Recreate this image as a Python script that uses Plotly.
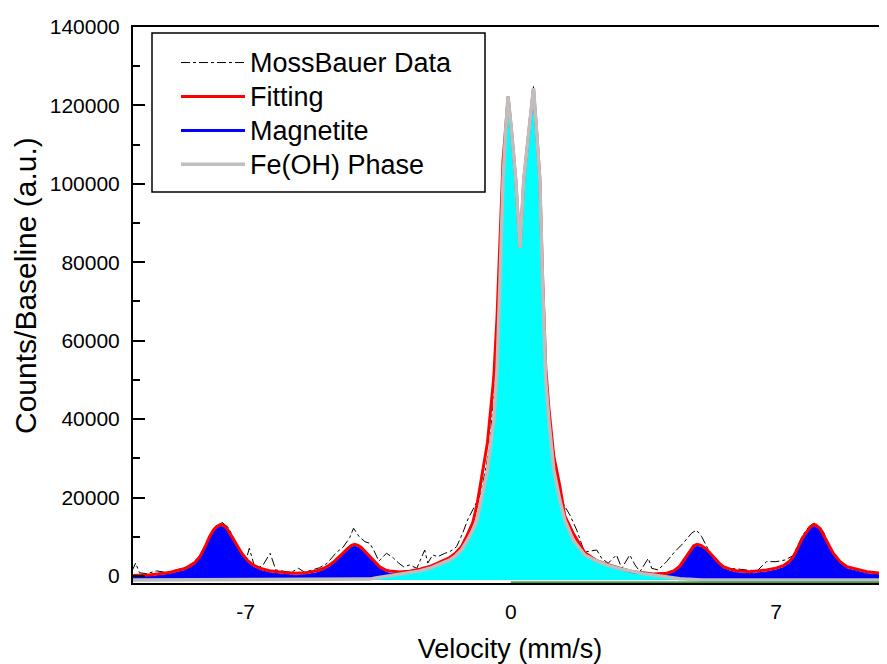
import plotly.graph_objects as go

# ---------------- data ----------------
# smooth model curves share one velocity grid (mm/s)
V_CURVE = [-10.0, -9.5, -9.0, -8.6, -8.35, -8.2, -8.05, -7.95, -7.85, -7.76,
           -7.64, -7.51, -7.42, -7.33, -7.2, -7.1, -6.95, -6.8, -6.6, -6.37,
           -6.0, -5.66, -5.4, -5.13, -4.95, -4.78, -4.65, -4.52, -4.4, -4.3,
           -4.2, -4.12, -4.03, -3.94, -3.83, -3.72, -3.6, -3.46, -3.3, -3.2,
           -2.93, -2.67, -2.4, -2.14, -1.9, -1.61, -1.45, -1.3, -1.15, -1.0,
           -0.89, -0.774, -0.615, -0.449, -0.362, -0.283, -0.203, -0.132, -0.071, 0.018,
           0.132, 0.211, 0.246, 0.343, 0.483, 0.6, 0.679, 0.766, 0.837, 0.924,
           1.004, 1.136, 1.294, 1.426, 1.646, 1.955, 2.25, 2.528, 2.9, 3.22,
           3.5, 3.75, 4.12, 4.3, 4.46, 4.6, 4.73, 4.83, 4.92, 5.02,
           5.17, 5.28, 5.39, 5.5, 5.61, 5.8, 5.96, 6.31, 6.75, 7.0,
           7.19, 7.35, 7.46, 7.6, 7.72, 7.9, 8.01, 8.16, 8.34, 8.51,
           8.7, 8.87, 9.4, 9.92, 10.0]

FITTING = [100, 300, 900, 1900, 3300, 5000, 7800, 10000, 11700, 12600,
           13200, 12400, 11000, 9600, 7400, 5800, 4000, 2800, 1900, 1350,
           900, 700, 850, 1300, 1900, 2800, 3800, 4900, 6100, 7060,
           7800, 8080, 7800, 7220, 6100, 4900, 3600, 2370, 1500, 1280,
           1000, 1200, 1700, 2400, 3400, 4700, 5900, 7500, 10400, 13700,
           18200, 24500, 34000, 50500, 66000, 86000, 106000, 114500, 122240, 113750,
           101000, 88240, 83650, 101000, 113750, 124380, 113750, 101500, 77000, 53000,
           43000, 30500, 23000, 15300, 10900, 5900, 4000, 3000, 1900, 1100,
           800, 510, 700, 1300, 2500, 4500, 6500, 7700, 8080, 7800,
           6800, 5600, 4500, 3300, 2400, 1700, 1350, 1100, 1530, 2000,
           2630, 3700, 4920, 7500, 10020, 12420, 13190, 12170, 8750, 5790,
           3600, 2370, 1100, 510, 450]

MAGNETITE = [-300, -150, 450, 1400, 2800, 4500, 7300, 9500, 11200, 12100,
             12700, 11900, 10500, 9100, 6900, 5300, 3500, 2300, 1400, 850,
             400, 200, 350, 800, 1400, 2300, 3300, 4400, 5600, 6560,
             7300, 7580, 7300, 6700, 5600, 4400, 3100, 1900, 1000, 700,
             350, 450, 600, 800, 1000, 1400, 1800, 2200, 2600, 2800,
             2800, 2800, 2600, 2400, 2200, 2000, 1900, 1800, 1800, 1800,
             1900, 2000, 2000, 2100, 2300, 2500, 2600, 2700, 2800, 2900,
             3000, 3000, 2900, 2700, 2300, 1700, 1300, 1000, 800, 600,
             450, 300, 300, 900, 2000, 4000, 6000, 7200, 7580, 7300,
             6300, 5100, 4000, 2800, 1900, 1200, 850, 600, 1030, 1500,
             2130, 3200, 4420, 7000, 9520, 11920, 12690, 11670, 8250, 5290,
             3100, 1870, 600, 100, 50]

FE_OH = [-1000, -1000, -1000, -1000, -1000, -1000, -1000, -1000, -1000, -1000,
         -1000, -1000, -1000, -1000, -1000, -1000, -1000, -1000, -1000, -1000,
         -1000, -1000, -1000, -1000, -1000, -1000, -1000, -1000, -1000, -1000,
         -1000, -1000, -1000, -950, -900, -800, -600, -400, -200, 0,
         400, 765, 1300, 1960, 2900, 4080, 5200, 6630, 9000, 11700,
         14280, 19380, 27030, 39790, 52540, 75490, 101000, 113750, 122240, 113750,
         101000, 88240, 83650, 101000, 113750, 124380, 113750, 101000, 75490, 49990,
         39790, 27030, 19380, 14280, 9180, 5360, 3900, 2810, 1800, 1100,
         600, 255, -300, -600, -700, -800, -900, -950, -1000, -1000,
         -1000, -1000, -1000, -1000, -1000, -1000, -1000, -1000, -1000, -1000,
         -1000, -1000, -1000, -1000, -1000, -1000, -1000, -1000, -1000, -1000,
         -1000, -1000, -1000, -1000, -1000]

# measured (noisy) Mossbauer data
V_DATA = [-10.0, -9.9, -9.8, -9.6, -9.35, -9.1, -8.85, -8.6, -8.35, -8.15,
          -7.95, -7.78, -7.62, -7.45, -7.3, -7.15, -7.0, -6.9, -6.78, -6.7,
          -6.55, -6.35, -6.2, -6.0, -5.8, -5.6, -5.45, -5.25, -5.05, -4.85,
          -4.6, -4.42, -4.25, -4.15, -4.0, -3.85, -3.72, -3.62, -3.48, -3.28,
          -3.1, -2.96, -2.83, -2.67, -2.48, -2.27, -2.19, -2.06, -1.93, -1.74,
          -1.61, -1.43, -1.27, -1.14, -1.0, -0.87, -0.79, -0.65, -0.55, -0.42,
          -0.3, -0.2, -0.12, -0.06, 0.02, 0.13, 0.24, 0.35, 0.48, 0.6,
          0.7, 0.8, 0.92, 1.05, 1.21, 1.38, 1.56, 1.74, 1.91, 2.0,
          2.27, 2.4, 2.57, 2.79, 2.93, 3.14, 3.28, 3.41, 3.63, 3.72,
          3.89, 4.11, 4.33, 4.55, 4.77, 4.9, 5.04, 5.2, 5.38, 5.6,
          5.75, 6.23, 6.5, 6.75, 7.0, 7.24, 7.45, 7.7, 7.88, 8.02,
          8.15, 8.25, 8.4, 8.55, 8.8, 9.1, 9.4, 9.7, 10.0]

COUNTS_DATA = [1200, 3300, 800, 600, 1300, 900, 1500, 2100, 3600, 6000,
               10200, 12600, 13700, 12300, 9400, 6000, 3600, 7060, 3000, 2040,
               2600, 5780, 1530, 1300, 900, 1960, 1000, 1500, 2100, 3200,
               6000, 7400, 9800, 12170, 10020, 8750, 8340, 6630, 3800, 5800,
               4600, 3300, 2370, 2800, 1960, 6630, 3300, 5360, 4920, 5780,
               6200, 7470, 10890, 14280, 16830, 19380, 21090, 28000, 34000, 50000,
               74000, 100000, 116000, 121500, 112000, 99000, 84000, 100000, 114000, 124800,
               111000, 88000, 52000, 38000, 25320, 18540, 15560, 11730, 7060, 6200,
               6630, 4510, 3240, 5360, 1960, 5360, 2810, 1100, 4510, 1960,
               1530, 3650, 6200, 8340, 10890, 11730, 10020, 7000, 4300, 2370,
               2000, 1530, 1300, 3650, 3650, 4080, 5200, 10300, 12700, 13600,
               12500, 11300, 8000, 5200, 2800, 1600, 1000, 700, 500]

# small green residual-like line near the bottom, right half
V_GREEN = [0.0, 10.0]
GREEN = [-1550, -1550]

MAG_FLOOR = -800     # lower edge of the blue area
FEOH_FLOOR = -1000   # lower edge of the cyan area

Y_TICKS = [0, 20000, 40000, 60000, 80000, 100000, 120000, 140000]
X_TICKS = [-7, 0, 7]

SERIES_NAMES = ["MossBauer Data", "Fitting", "Magnetite", "Fe(OH) Phase"]

FONT = "Arial, 'Liberation Sans', sans-serif"

# the page body has an 8px margin, so the figure is sized/positioned to compensate
W, H = 879, 656
ML, MT, MB = 125, 19, 81
PW, PH = W - ML, H - MT - MB   # plot area 754 x 556


def legend_label(name):
    # bigger glyphs than the legend row pitch (which follows legend.font.size)
    return '<span style="font-size:27px">' + name + "</span>"


fig = go.Figure()

fig.add_trace(go.Scatter(x=V_DATA, y=COUNTS_DATA, mode="lines", name=legend_label(SERIES_NAMES[0]),
                         line=dict(color="black", width=1, dash="dashdot"), legendrank=1))

fig.add_trace(go.Scatter(x=V_CURVE, y=[MAG_FLOOR] * len(V_CURVE), mode="lines",
                         line=dict(width=0, color="rgba(0,0,0,0)"), showlegend=False, hoverinfo="skip"))
fig.add_trace(go.Scatter(x=V_CURVE, y=MAGNETITE, mode="lines", fill="tonexty", fillcolor="#0000FF",
                         line=dict(color="#0000FF", width=1), showlegend=False, name=SERIES_NAMES[2]))

fig.add_trace(go.Scatter(x=V_CURVE, y=[FEOH_FLOOR] * len(V_CURVE), mode="lines",
                         line=dict(width=0, color="rgba(0,0,0,0)"), showlegend=False, hoverinfo="skip"))
fig.add_trace(go.Scatter(x=V_CURVE, y=FE_OH, mode="lines", fill="tonexty", fillcolor="#00FFFF",
                         line=dict(width=0, color="#00FFFF"), showlegend=False, hoverinfo="skip"))

fig.add_trace(go.Scatter(x=V_CURVE, y=FITTING, mode="lines", name=legend_label(SERIES_NAMES[1]),
                         line=dict(color="#FF0000", width=3), legendrank=2))

fig.add_trace(go.Scatter(x=V_CURVE, y=FE_OH, mode="lines", name=legend_label(SERIES_NAMES[3]),
                         line=dict(color="#BEBEBE", width=3.5), legendrank=4))

fig.add_trace(go.Scatter(x=V_GREEN, y=GREEN, mode="lines", showlegend=False,
                         line=dict(color="#008000", width=1.2), hoverinfo="skip"))

# legend entry for the magnetite component (line symbol)
fig.add_trace(go.Scatter(x=[None], y=[None], mode="lines", name=legend_label(SERIES_NAMES[2]),
                         line=dict(color="#0000FF", width=3), legendrank=3))

fig.update_layout(
    width=W, height=H,
    margin=dict(l=ML, r=0, t=MT, b=MB),
    paper_bgcolor="white", plot_bgcolor="white",
    font=dict(family=FONT, color="black"),
    showlegend=True,
    legend=dict(x=0.057, y=0.9756, xanchor="left", yanchor="top", traceorder="normal",
                bgcolor="rgba(0,0,0,0)", borderwidth=0,
                font=dict(family=FONT, size=23.8, color="black"),
                itemwidth=64, tracegroupgap=0),
    # legend frame
    shapes=[dict(type="rect", xref="paper", yref="paper",
                 x0=19 / PW, x1=352 / PW,
                 y0=(556 - 165) / PH, y1=(556 - 6) / PH,
                 line=dict(color="black", width=1.5), fillcolor="white", layer="above")],
    annotations=[dict(text="Counts/Baseline (a.u.)", xref="paper", yref="paper",
                      x=-108 / PW, y=(556 - 259) / PH, textangle=-90, showarrow=False,
                      xanchor="center", yanchor="middle",
                      font=dict(family=FONT, size=30, color="black"))],
    xaxis=dict(range=[-9.97, 9.93], tickvals=X_TICKS, ticktext=[str(t) for t in X_TICKS],
               ticks="", showgrid=False, zeroline=False, automargin=False,
               showline=True, linecolor="black", linewidth=2, mirror=True,
               tickfont=dict(family=FONT, size=21), ticklabelstandoff=9,
               title=dict(text="Velocity (mm/s)", font=dict(family=FONT, size=27), standoff=18)),
    yaxis=dict(range=[-1790, 140000], tickvals=Y_TICKS, tickformat="d", automargin=False,
               ticks="inside", ticklen=12, tickwidth=1.5, tickcolor="black",
               minor=dict(dtick=10000, ticks="inside", ticklen=7, tickwidth=1.5, tickcolor="black"),
               showgrid=False, zeroline=False,
               showline=True, linecolor="black", linewidth=2, mirror=False,
               tickfont=dict(family=FONT, size=21), ticklabelstandoff=7),
)

fig.write_html("out.html")
